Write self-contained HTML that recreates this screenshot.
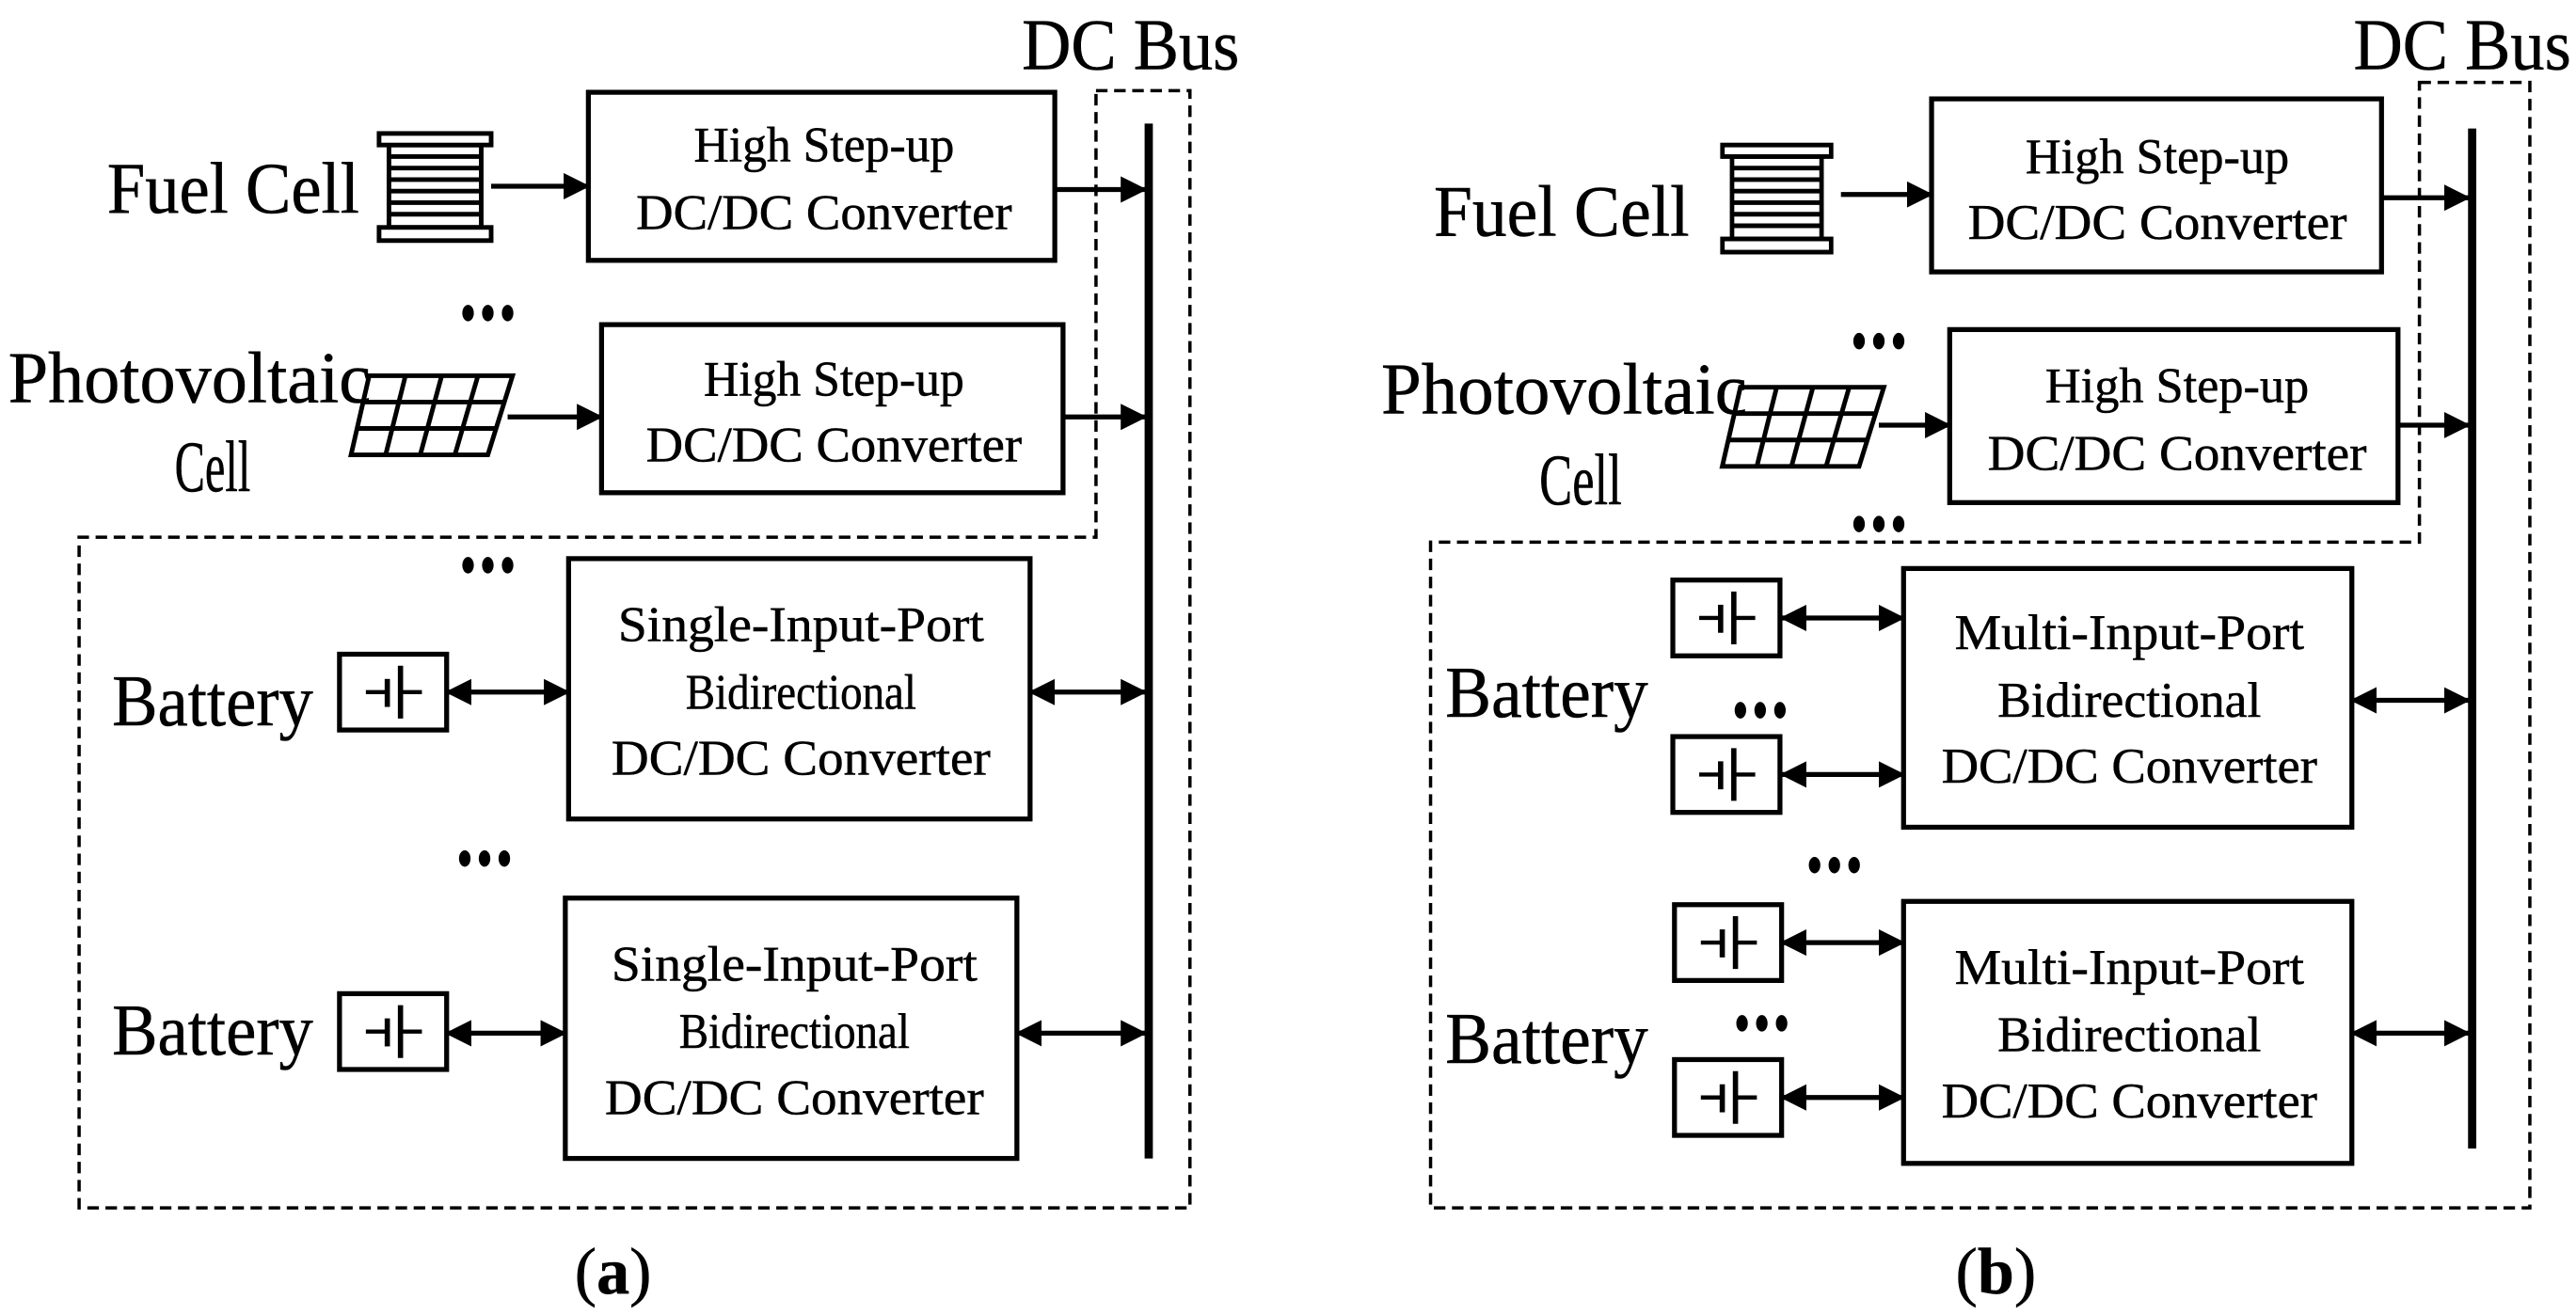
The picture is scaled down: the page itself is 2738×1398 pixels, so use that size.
<!DOCTYPE html>
<html><head><meta charset="utf-8"><style>
html,body{margin:0;padding:0;background:#fff}
svg{display:block}
text{font-family:"Liberation Serif",serif;fill:#000;stroke:#000;stroke-width:0.3}
</style></head><body>
<svg width="2738" height="1398" viewBox="0 0 1563 798" preserveAspectRatio="none" xmlns="http://www.w3.org/2000/svg">
<defs>
<marker id="ah" markerUnits="userSpaceOnUse" markerWidth="16" markerHeight="16" refX="15" refY="8" orient="auto-start-reverse"><path d="M0,0 L16,8 L0,16 z" fill="#000"/></marker>
<g id="bat">
<rect x="0" y="0" width="65" height="46" fill="#fff" stroke="#000" stroke-width="3"/>
<line x1="16" y1="23" x2="29" y2="23" stroke="#000" stroke-width="2.5"/>
<line x1="29" y1="15" x2="29" y2="32" stroke="#000" stroke-width="3.2"/>
<line x1="37" y1="7" x2="37" y2="39" stroke="#000" stroke-width="3.2"/>
<line x1="37" y1="23" x2="50" y2="23" stroke="#000" stroke-width="2.5"/>
</g>
<g id="fc" stroke="#000" stroke-width="2.8" fill="#fff">
<rect x="236" y="88" width="56" height="50"/>
<line x1="236" y1="95" x2="292" y2="95"/><line x1="236" y1="102" x2="292" y2="102"/><line x1="236" y1="109" x2="292" y2="109"/><line x1="236" y1="116" x2="292" y2="116"/><line x1="236" y1="123" x2="292" y2="123"/><line x1="236" y1="130" x2="292" y2="130"/>
<rect x="230" y="81" width="68" height="7"/>
<rect x="230" y="138" width="68" height="8"/>
</g>
<g id="pv" stroke="#000" stroke-width="2.8" fill="#fff">
<path d="M224,228 L311,228 L296,276 L213,276 z"/>
<line x1="220" y1="244" x2="306" y2="244"/><line x1="217" y1="260" x2="301" y2="260"/>
<line x1="246" y1="228" x2="234" y2="276"/><line x1="268" y1="228" x2="255" y2="276"/><line x1="290" y1="228" x2="276" y2="276"/>
</g>
</defs>
<g stroke="#000" stroke-width="3" fill="none">
<path d="M665,55 L722,55 L722,733 L48,733 L48,326 L665,326 z" stroke-width="2" stroke-dasharray="7,4"/>
<line x1="697" y1="75" x2="697" y2="703" stroke-width="5"/>
<rect x="357" y="56" width="283" height="102"/>
<rect x="365" y="197" width="280" height="102"/>
<rect x="345" y="339" width="280" height="158"/>
<rect x="343" y="545" width="274" height="158"/>
<line x1="298" y1="113" x2="357" y2="113" marker-end="url(#ah)"/>
<line x1="640" y1="115" x2="695" y2="115" marker-end="url(#ah)"/>
<line x1="308" y1="253" x2="365" y2="253" marker-end="url(#ah)"/>
<line x1="645" y1="253" x2="695" y2="253" marker-end="url(#ah)"/>
<line x1="271" y1="420" x2="345" y2="420" marker-start="url(#ah)" marker-end="url(#ah)"/>
<line x1="625" y1="420" x2="695" y2="420" marker-start="url(#ah)" marker-end="url(#ah)"/>
<line x1="271" y1="627" x2="343" y2="627" marker-start="url(#ah)" marker-end="url(#ah)"/>
<line x1="617" y1="627" x2="695" y2="627" marker-start="url(#ah)" marker-end="url(#ah)"/>
<path d="M1468,50 L1535,50 L1535,733 L868,733 L868,329 L1468,329 z" stroke-width="2" stroke-dasharray="7,4"/>
<line x1="1500" y1="78" x2="1500" y2="697" stroke-width="5"/>
<rect x="1172" y="60" width="273" height="105"/>
<rect x="1183" y="200" width="272" height="105"/>
<rect x="1155" y="345" width="272" height="157"/>
<rect x="1155" y="547" width="272" height="159"/>
<line x1="1117" y1="118" x2="1172" y2="118" marker-end="url(#ah)"/>
<line x1="1445" y1="120" x2="1498" y2="120" marker-end="url(#ah)"/>
<line x1="1140" y1="258" x2="1183" y2="258" marker-end="url(#ah)"/>
<line x1="1455" y1="258" x2="1498" y2="258" marker-end="url(#ah)"/>
<line x1="1081" y1="375" x2="1155" y2="375" marker-start="url(#ah)" marker-end="url(#ah)"/>
<line x1="1081" y1="470" x2="1155" y2="470" marker-start="url(#ah)" marker-end="url(#ah)"/>
<line x1="1081" y1="572" x2="1155" y2="572" marker-start="url(#ah)" marker-end="url(#ah)"/>
<line x1="1081" y1="666" x2="1155" y2="666" marker-start="url(#ah)" marker-end="url(#ah)"/>
<line x1="1427" y1="425" x2="1498" y2="425" marker-start="url(#ah)" marker-end="url(#ah)"/>
<line x1="1427" y1="627" x2="1498" y2="627" marker-start="url(#ah)" marker-end="url(#ah)"/>
</g>
<use href="#fc"/>
<use href="#pv"/>
<use href="#fc" transform="translate(822,7) scale(0.97,1)"/>
<use href="#pv" transform="translate(832,7)"/>
<use href="#bat" x="206" y="397"/>
<use href="#bat" x="206" y="603"/>
<use href="#bat" x="1015" y="352"/>
<use href="#bat" x="1015" y="447"/>
<use href="#bat" x="1016" y="549"/>
<use href="#bat" x="1016" y="643"/>
<g fill="#000">
<ellipse cx="284" cy="190" rx="3.5" ry="5"/><ellipse cx="296" cy="190" rx="3.5" ry="5"/><ellipse cx="308" cy="190" rx="3.5" ry="5"/>
<ellipse cx="284" cy="343" rx="3.5" ry="5"/><ellipse cx="296" cy="343" rx="3.5" ry="5"/><ellipse cx="308" cy="343" rx="3.5" ry="5"/>
<ellipse cx="282" cy="521" rx="3.5" ry="5"/><ellipse cx="294" cy="521" rx="3.5" ry="5"/><ellipse cx="306" cy="521" rx="3.5" ry="5"/>
<ellipse cx="1128" cy="207" rx="3.5" ry="5"/><ellipse cx="1140" cy="207" rx="3.5" ry="5"/><ellipse cx="1152" cy="207" rx="3.5" ry="5"/>
<ellipse cx="1128" cy="318" rx="3.5" ry="5"/><ellipse cx="1140" cy="318" rx="3.5" ry="5"/><ellipse cx="1152" cy="318" rx="3.5" ry="5"/>
<ellipse cx="1056" cy="431" rx="3.5" ry="5"/><ellipse cx="1068" cy="431" rx="3.5" ry="5"/><ellipse cx="1080" cy="431" rx="3.5" ry="5"/>
<ellipse cx="1101" cy="525" rx="3.5" ry="5"/><ellipse cx="1113" cy="525" rx="3.5" ry="5"/><ellipse cx="1125" cy="525" rx="3.5" ry="5"/>
<ellipse cx="1057" cy="621" rx="3.5" ry="5"/><ellipse cx="1069" cy="621" rx="3.5" ry="5"/><ellipse cx="1081" cy="621" rx="3.5" ry="5"/>
</g>
<g font-size="44">
<text x="620" y="42" textLength="132" lengthAdjust="spacingAndGlyphs">DC Bus</text>
<text x="1428" y="42" textLength="132" lengthAdjust="spacingAndGlyphs">DC Bus</text>
<text x="65" y="129" textLength="153" lengthAdjust="spacingAndGlyphs">Fuel Cell</text>
<text x="5" y="244" textLength="220" lengthAdjust="spacingAndGlyphs">Photovoltaic</text>
<text x="106" y="298" textLength="46" lengthAdjust="spacingAndGlyphs">Cell</text>
<text x="68" y="440" textLength="122" lengthAdjust="spacingAndGlyphs">Battery</text>
<text x="68" y="640" textLength="122" lengthAdjust="spacingAndGlyphs">Battery</text>
<text x="870" y="143" textLength="155" lengthAdjust="spacingAndGlyphs">Fuel Cell</text>
<text x="838" y="251" textLength="222" lengthAdjust="spacingAndGlyphs">Photovoltaic</text>
<text x="934" y="306" textLength="50" lengthAdjust="spacingAndGlyphs">Cell</text>
<text x="877" y="435" textLength="123" lengthAdjust="spacingAndGlyphs">Battery</text>
<text x="877" y="645" textLength="123" lengthAdjust="spacingAndGlyphs">Battery</text>
</g>
<g font-size="30" text-anchor="middle">
<text x="500" y="98" textLength="158" lengthAdjust="spacingAndGlyphs">High Step-up</text>
<text x="500" y="139" textLength="228" lengthAdjust="spacingAndGlyphs">DC/DC Converter</text>
<text x="506" y="240" textLength="158" lengthAdjust="spacingAndGlyphs">High Step-up</text>
<text x="506" y="280" textLength="228" lengthAdjust="spacingAndGlyphs">DC/DC Converter</text>
<text x="486" y="389" textLength="222" lengthAdjust="spacingAndGlyphs">Single-Input-Port</text>
<text x="486" y="430" textLength="140" lengthAdjust="spacingAndGlyphs">Bidirectional</text>
<text x="486" y="470" textLength="230" lengthAdjust="spacingAndGlyphs">DC/DC Converter</text>
<text x="482" y="595" textLength="222" lengthAdjust="spacingAndGlyphs">Single-Input-Port</text>
<text x="482" y="636" textLength="140" lengthAdjust="spacingAndGlyphs">Bidirectional</text>
<text x="482" y="676" textLength="230" lengthAdjust="spacingAndGlyphs">DC/DC Converter</text>
<text x="1309" y="105" textLength="160" lengthAdjust="spacingAndGlyphs">High Step-up</text>
<text x="1309" y="145" textLength="230" lengthAdjust="spacingAndGlyphs">DC/DC Converter</text>
<text x="1321" y="244" textLength="160" lengthAdjust="spacingAndGlyphs">High Step-up</text>
<text x="1321" y="285" textLength="230" lengthAdjust="spacingAndGlyphs">DC/DC Converter</text>
<text x="1292" y="394" textLength="212" lengthAdjust="spacingAndGlyphs">Multi-Input-Port</text>
<text x="1292" y="435" textLength="160" lengthAdjust="spacingAndGlyphs">Bidirectional</text>
<text x="1292" y="475" textLength="228" lengthAdjust="spacingAndGlyphs">DC/DC Converter</text>
<text x="1292" y="597" textLength="212" lengthAdjust="spacingAndGlyphs">Multi-Input-Port</text>
<text x="1292" y="638" textLength="160" lengthAdjust="spacingAndGlyphs">Bidirectional</text>
<text x="1292" y="678" textLength="228" lengthAdjust="spacingAndGlyphs">DC/DC Converter</text>
</g>
<g font-size="40" text-anchor="middle">
<text x="372" y="785">(<tspan font-weight="bold">a</tspan>)</text>
<text x="1211" y="785">(<tspan font-weight="bold">b</tspan>)</text>
</g>
</svg>
</body></html>
